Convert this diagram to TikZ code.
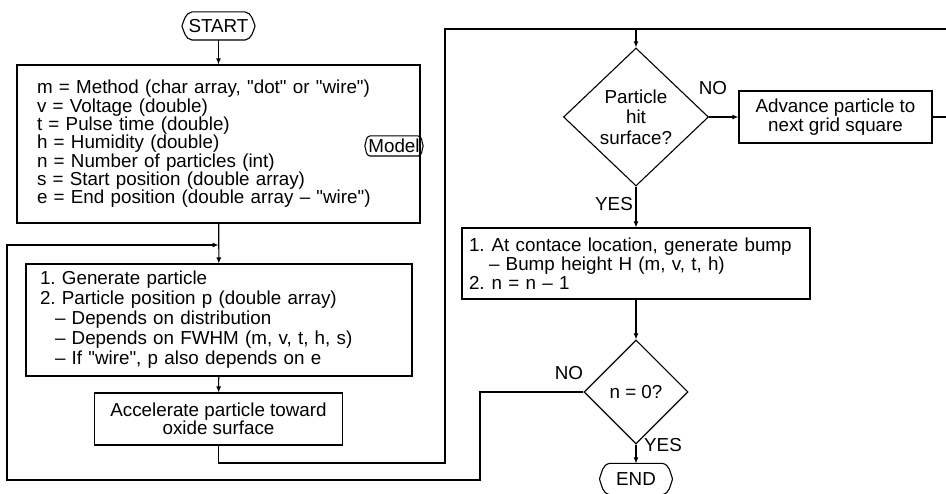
\documentclass[tikz,border=0pt]{standalone}
\usepackage{fontspec}
\setmainfont{Liberation Sans}[Ligatures=TeXOff]
\usetikzlibrary{shapes.geometric,arrows.meta}

\tikzset{
  procbox/.style={draw, rectangle, inner sep=0pt, align=left},
  decision/.style={draw, diamond, inner sep=0pt, align=center},
  terminal/.style={inner sep=0pt, align=center},
  flowlabel/.style={inner sep=0pt}
}

\begin{document}
\frenchspacing
\begin{tikzpicture}[x=1pt, y=1pt, line width=1.1pt,
    >={Latex[length=6pt,width=5pt]},
    font=\fontsize{18.8}{18.3}\selectfont]
  \useasboundingbox (0,0) rectangle (946,-494);

  % Nodes
  \node[terminal, minimum width=72pt, minimum height=27pt] at (218.5,-26) (start) {START};
  \node[procbox, minimum width=403pt, minimum height=158pt, text width=363pt] at (218.5,-144) (params)
    {m = Method (char array, "dot" or "wire")\\
     v = Voltage (double)\\
     t = Pulse time (double)\\
     h = Humidity (double)\\
     n = Number of particles (int)\\
     s = Start position (double array)\\
     e = End position (double array – "wire")};
  \node[terminal, inner xsep=3pt, minimum height=19pt] at (394,-146) (model) {Model};
  \node[procbox, minimum width=386pt, minimum height=112pt, text width=358pt,
        font=\fontsize{18.8}{20}\selectfont] at (219,-320) (gen)
    {1. Generate particle\\
     2. Particle position p (double array)\\
     \hspace*{15pt}– Depends on distribution\\
     \hspace*{15pt}– Depends on FWHM (m, v, t, h, s)\\
     \hspace*{15pt}– If "wire", p also depends on e};
  \node[procbox, align=center, minimum width=248pt, minimum height=52pt] at (218.5,-419) (accel)
    {Accelerate particle toward\\oxide surface};

  \node[decision, minimum width=145pt, minimum height=138pt,
        font=\fontsize{18.8}{20.5}\selectfont] at (636,-117) (hit) {Particle\\hit\\surface?};
  \node[procbox, align=center, minimum width=193pt, minimum height=52pt] at (835.5,-117) (adv)
    {Advance particle to\\next grid square};
  \node[procbox, minimum width=348pt, minimum height=71pt, text width=334pt,
        font=\fontsize{18.8}{19}\selectfont] at (636,-263.5) (bump)
    {1.\hspace{7pt}At contace location, generate bump\\
     \hspace*{20pt}– Bump height H (m, v, t, h)\\
     2.\hspace{7pt}n = n – 1};
  \node[decision, minimum width=104pt, minimum height=104pt] at (636,-392) (nzero) {n = 0?};
  \node[terminal, minimum width=72pt, minimum height=30pt] at (636,-479) (finish) {END};

  \node[flowlabel] at (713,-88) (hitno) {NO};
  \node[flowlabel] at (614,-204) (hityes) {YES};
  \node[flowlabel] at (569,-373) (nzerono) {NO};
  \node[flowlabel] at (663,-445) (nzeroyes) {YES};

  % Terminal outlines
  \foreach \t/\c in {start/10, model/5, finish/10}
    \draw (\t.west) to[out=70,in=190] ([xshift=\c pt]\t.north west)
      -- ([xshift=-\c pt]\t.north east) to[out=-10,in=110] (\t.east)
      to[out=-110,in=10] ([xshift=-\c pt]\t.south east)
      -- ([xshift=\c pt]\t.south west) to[out=170,in=-70] (\t.west);

  \coordinate (loopin) at (218.5,-245);
  \coordinate (topin) at (636,-29);

  % Connectors
  \draw[->] (start) -- (params);
  \draw[->] (params) -- (gen);
  \draw[->] (gen) -- (accel);
  \draw[->] (nzero.west) -| (480,-480) -| (7,-245) -- (loopin);
  \draw[->] (accel.south) |- (445,-463) -- (445,-29) -| (hit.north);
  \draw (adv.east) -| (947,-29) -- (topin);
  \draw[->] (hit.east) -- (adv.west);
  \draw[->] (hit.south) -- (bump.north);
  \draw[->] (bump.south) -- (nzero.north);
  \draw[->] (nzero.south) -- (finish.north);
\end{tikzpicture}
\end{document}
